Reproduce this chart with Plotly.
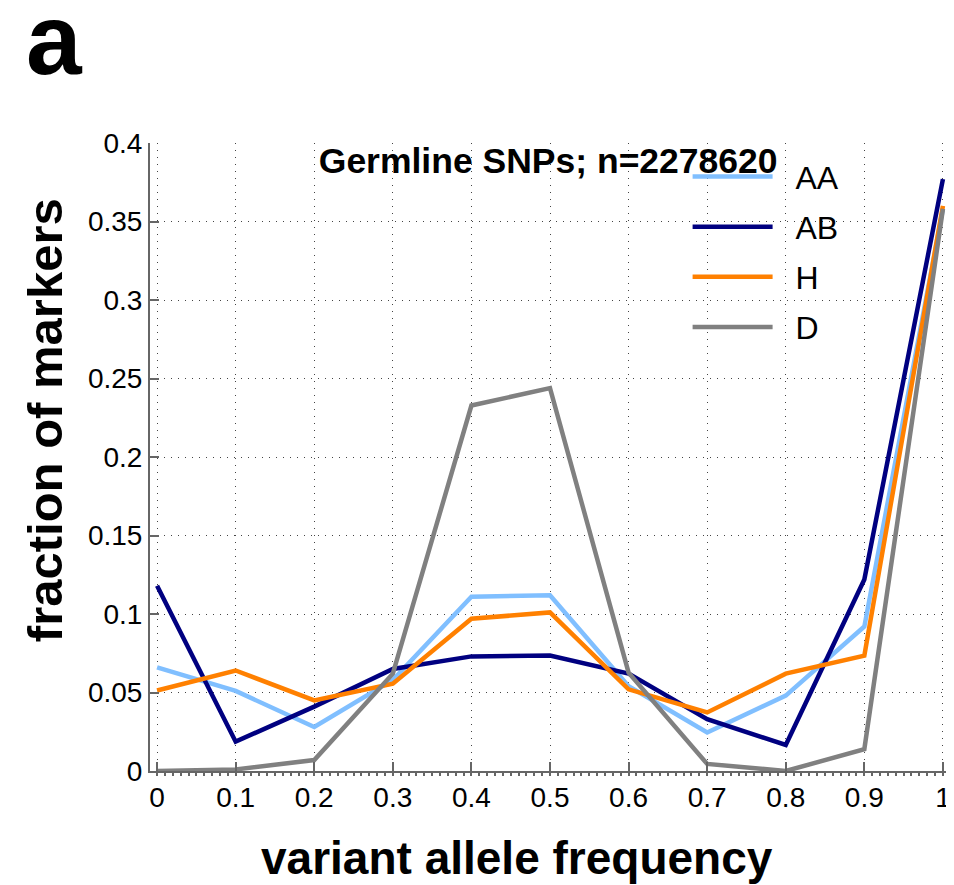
import plotly.graph_objects as go

vaf = [0, 0.1, 0.2, 0.3, 0.4, 0.5, 0.6, 0.7, 0.8, 0.9, 1.0]
aa = [0.066, 0.051, 0.028, 0.058, 0.111, 0.112, 0.054, 0.0245, 0.048, 0.092, 0.358]
ab = [0.118, 0.0187, 0.041, 0.065, 0.073, 0.0735, 0.062, 0.033, 0.0166, 0.122, 0.377]
h = [0.0513, 0.064, 0.045, 0.0556, 0.097, 0.101, 0.052, 0.0373, 0.062, 0.0735, 0.360]
d = [0.0, 0.001, 0.007, 0.062, 0.2328, 0.2439, 0.0626, 0.0045, 0.0, 0.0139, 0.358]

series = [
    ("AA", aa, "#80bfff"),
    ("AB", ab, "#000080"),
    ("H", h, "#ff8000"),
    ("D", d, "#808080"),
]

x_ticks = [0, 0.1, 0.2, 0.3, 0.4, 0.5, 0.6, 0.7, 0.8, 0.9, 1]
x_ticklabels = ["0", "0.1", "0.2", "0.3", "0.4", "0.5", "0.6", "0.7", "0.8", "0.9", "1"]
y_ticks = [0, 0.05, 0.1, 0.15, 0.2, 0.25, 0.3, 0.35, 0.4]
y_ticklabels = ["0", "0.05", "0.1", "0.15", "0.2", "0.25", "0.3", "0.35", "0.4"]

title_text = "Germline SNPs; n=2278620"
x_title = "variant allele frequency"
y_title = "fraction of markers"
panel_label = "a"

fig = go.Figure()
for name, vals, col in series:
    fig.add_trace(go.Scatter(x=vaf, y=vals, mode="lines",
                             name="\u00a0\u00a0" + name, legendgroup=name,
                             line=dict(color=col, width=4.5)))

font_main = "Liberation Sans, Arial, Helvetica, sans-serif"
font_narrow = "Liberation Sans Narrow, Arial Narrow, Liberation Sans, Arial, sans-serif"

# the page body has an 8px margin; the figure is sized to fill the rest
fig.update_layout(
    width=946, height=877,
    margin=dict(l=142, r=4, t=135, b=114),
    paper_bgcolor="white", plot_bgcolor="white",
    font=dict(family=font_main, color="black", size=28),
    title=dict(text="<b>" + title_text + "</b>", x=0.571, xanchor="center",
               y=0.8255, yanchor="middle", font=dict(size=35.5, family=font_main)),
    showlegend=True,
    legend=dict(x=0.672, y=0.99, xanchor="left", yanchor="top",
                bgcolor="rgba(0,0,0,0)", font=dict(size=32), itemwidth=80,
                tracegroupgap=5.5, traceorder="grouped"),
    annotations=[
        dict(text="<b>" + panel_label + "</b>", x=-0.119, y=1.166, xref="paper", yref="paper",
             xanchor="center", yanchor="middle", showarrow=False,
             font=dict(size=100, family=font_main)),
        dict(text="<b>" + x_title + "</b>", x=0.459, y=-0.1385, xref="paper", yref="paper",
             xanchor="center", yanchor="middle", showarrow=False,
             font=dict(size=46, family=font_main)),
        dict(text="<b>" + y_title + "</b>", x=-0.131, y=0.559, xref="paper", yref="paper",
             xanchor="center", yanchor="middle", showarrow=False, textangle=-90,
             font=dict(size=49, family=font_main)),
    ],
)

axis_common = dict(
    showline=True, linecolor="#666666", linewidth=2, mirror=False,
    ticks="inside", ticklen=9, tickcolor="#666666", tickwidth=1.5,
    showgrid=True, gridcolor="#444444", griddash="1px,6px", gridwidth=1.2,
    zeroline=False, tickfont=dict(size=28),
)

fig.update_xaxes(
    range=[-0.009, 1.009], tickvals=x_ticks, ticktext=x_ticklabels,
    minor=dict(dtick=0.01, ticks="outside", ticklen=3, tickcolor="#666666", showgrid=False),
    **axis_common,
)
fig.update_yaxes(
    range=[0, 0.4], tickvals=y_ticks, ticktext=y_ticklabels,
    **axis_common,
)

fig.write_html("out.html")
